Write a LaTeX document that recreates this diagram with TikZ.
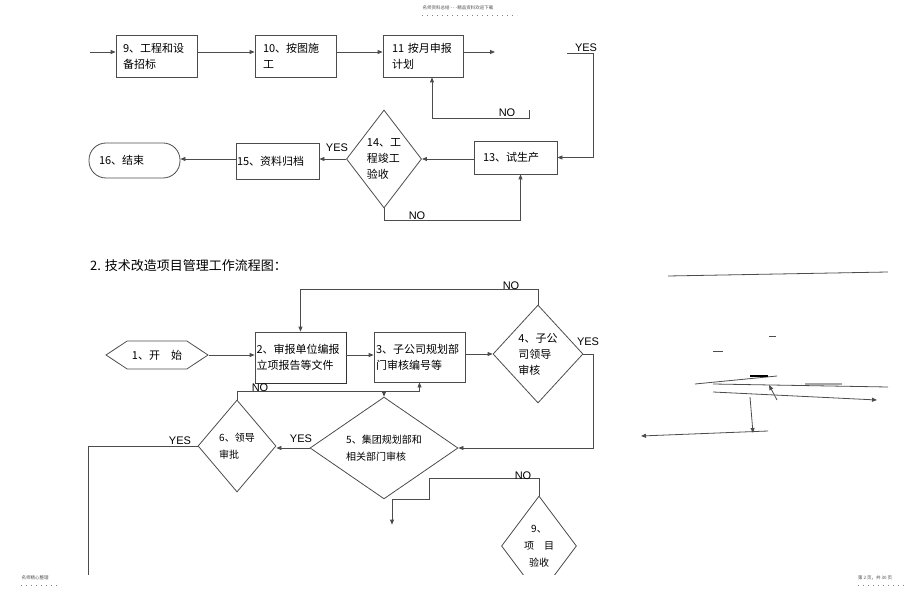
\documentclass[tikz,border=0pt]{standalone}
\usepackage{fontspec}
\setmainfont{Noto Sans CJK SC}
\newfontfamily\latfont{Liberation Sans}
\usetikzlibrary{arrows.meta,calc}
\usetikzlibrary{shapes.geometric,shapes.symbols}

\tikzset{
  line/.style={draw=black!70, line width=0.8pt},
  arr/.style={line, -{Triangle[length=5pt,width=4pt]}},
  box/.style={line, rectangle, align=left, inner ysep=0pt, font=\fontsize{11}{16}\selectfont},
  dia/.style={line, diamond, inner sep=0pt, align=left, font=\fontsize{11}{16}\selectfont},
  smalldia/.style={dia, font=\fontsize{10}{17}\selectfont},
  yn/.style={font=\latfont\fontsize{11}{12}\selectfont, inner sep=0pt},
  pagetext/.style={font=\fontsize{4.5}{5}\selectfont, text=black!70, inner sep=0pt},
  pagedots/.style={draw=black!50, line width=0.5pt, dash pattern=on 0.6pt off 4.4pt},
}

\begin{document}
\begin{tikzpicture}[x=1pt,y=-1pt]
\useasboundingbox (0,0) rectangle (920,593);

% page header / footer
\node[pagetext] (head) at (458,8) {名师资料总结 - - -精品资料欢迎下载};
\draw[pagedots] (head.south west) ++(0,5) -- ++(95,0);
\node[pagetext] (footl) at (35,578) {名师精心整理};
\draw[pagedots] (footl.south west) ++(0,5) -- ++(36,0);
\node[pagetext] (footr) at (875,578) {第 2 页，共 30 页};
\draw[pagedots] (footr.south west) ++(0,5) -- ++(46,0);

\begin{scope}
\clip (0,0) rectangle (920,574);

% ---- upper part
\coordinate (in9) at (90,52);
\node[box, text width=67pt, inner xsep=7pt, minimum height=42pt] (b9) at (156.5,56) {9、工程和设\\备招标};
\node[box, text width=65pt, inner xsep=8pt, minimum height=42pt] (b10) at (295.5,56) {10、按图施\\工};
\node[box, text width=62pt, inner xsep=9pt, minimum height=42pt] (b11) at (423,56) {11 按月申报\\计划};
\coordinate (out11) at (495,52);

\draw[arr] (in9) -- (in9 -| b9.west);
\draw[arr] (b9.east |- in9) -- (b10.west |- in9);
\draw[arr] (b10.east |- in9) -- (b11.west |- in9);
\draw[arr] (b11.east |- in9) -- (out11);

\node[box, text width=65pt, inner xsep=9pt, minimum height=33pt] (b13) at (515.5,157.5) {13、试生产};
\node[dia, minimum width=74pt, minimum height=98pt] (d14) at (384,159) {14、工\\程竣工\\验收};
\node[box, text width=81pt, inner xsep=1pt, minimum height=36pt] (b15) at (277.5,161) {15、资料归档};
\node[box, rounded corners=17pt, text width=71pt, inner xsep=10pt, minimum height=35pt] (e16) at (134.5,160.5) {16、结束};

\coordinate (y13) at (567,53);
\draw[arr] (y13) -- (593,53) |- (b13.east);
\node[yn] (yes13) at (586,48) {YES};

\coordinate (t11) at (529,110);
\draw[arr] (t11) -- (529,118) -| ($(b11.south)+(9,0)$);
\node[yn] (no11) at (507,113) {NO};

\draw[arr] (b13.west |- d14.east) -- (d14.east);
\draw[arr] (d14.west) -- (d14.west -| b15.east);
\node[yn] (yes14) at (337,148) {YES};
\draw[arr] (b15.west |- d14.west) -- (d14.west -| e16.east);
\draw[arr] (d14.south) -- ++(0,12) -| ($(b13.south)+(5,0)$);
\node[yn] (no14) at (417,216) {NO};

% ---- 2. flow chart
\node[anchor=west, inner sep=0pt, font=\fontsize{13}{14}\selectfont] (title) at (90,266) {2. 技术改造项目管理工作流程图：};

\node[line, signal, signal to=west and east, signal pointer angle=67, minimum width=102pt, minimum height=28pt, inner sep=0pt, font=\fontsize{11}{16}\selectfont] (h1) at (157,355) {1、开\quad 始};
\node[box, text width=88pt, inner xsep=1.5pt, minimum height=51pt] (b2) at (300.5,357.5) {2、审报单位编报\\立项报告等文件};
\draw[line width=1.4pt, black!80] (b2.north east) -- (b2.south east) -- (b2.south west);
\node[box, text width=87pt, inner xsep=2pt, minimum height=50pt] (b3) at (419.5,357) {3、子公司规划部\\门审核编号等};
\node[dia, minimum width=90pt, minimum height=98pt] (d4) at (538,354) {4、子公\\司领导\\审核};
\node[smalldia, minimum width=148pt, minimum height=98pt] (d5) at (384,448) {5、集团规划部和\\相关部门审核};
\node[smalldia, minimum width=78pt, minimum height=92pt] (d6) at (237,446) {6、领导\\审批};
\node[smalldia, align=center, minimum width=75pt, minimum height=100pt] (d9) at (539,546) {9、\\项\quad 目\\验收};

\draw[arr] (h1.east) -- (h1.east -| b2.west);
\draw[arr] (b2.east |- h1.east) -- (b3.west |- h1.east);
\draw[arr] (b3.east |- d4.west) -- (d4.west);

\draw[arr] (d4.north) -- ++(0,-15) -| (b2.north);
\node[yn] (no4) at (511,286) {NO};
\draw[arr] (d4.east) -- ++(10,0) |- (d5.east);
\node[yn] (yes4) at (588,342) {YES};

\draw[arr] (d5.west) -- (d5.west -| d6.east);
\node[yn] (yes5) at (301,439) {YES};

\path (d6.north) ++(0,-8) coordinate (n6);
\draw[arr] (d6.north) -- (n6) -| (b3.south);
\draw[arr] (n6 -| d5.north) -- (d5.north);
\node[yn] (no6) at (260,388) {NO};

\coordinate (e6) at (88,580);
\draw[line] (d6.west) -| (e6);
\node[yn] (yes6) at (180,441) {YES};

\draw[arr] (d9.north) -- ++(0,-17) -- ++(-110,0) -- ++(0,21) -- ++(-37,0) -- ++(0,25);
\node[yn] (no9) at (523,476) {NO};

% ---- stray strokes on the right
\draw[line] (668,276) -- (888,272);
\draw[line] (769,336) -- (776,336);
\draw[line] (713,351) -- (723,351);
\draw[line] (695,384) -- (777,376);
\draw[line width=1.6pt] (750,376) -- (768,376);
\draw[line] (713,384) -- (888,387);
\draw[line width=1.6pt, black!35] (805,384) -- (842,384);
\draw[arr] (777,400) -- (769,385);
\draw[arr] (713,392) -- (877,400);
\draw[arr] (750,397) -- (753,433);
\draw[arr] (768,431) -- (641,436);
\end{scope}
\end{tikzpicture}
\end{document}
